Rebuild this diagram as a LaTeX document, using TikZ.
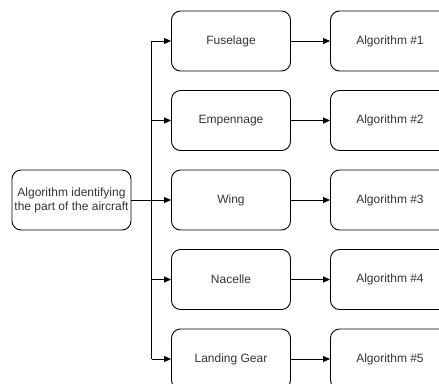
\documentclass[tikz,border=0pt]{standalone}
\usepackage{fontspec}
\setmainfont{Liberation Sans}
\usetikzlibrary{arrows.meta}
\definecolor{txt}{HTML}{333333}
\begin{document}
\begin{tikzpicture}[x=1pt,y=-1pt,
  box/.style={draw=black,line width=0.9pt,rounded corners=9pt,minimum width=119pt,minimum height=60pt,inner sep=0pt,align=center,text=txt,font=\fontsize{12}{14}\selectfont},
  conn/.style={draw=black,line width=0.9pt,-{Triangle[length=7pt,width=6pt]}}]
\useasboundingbox (0,0) rectangle (439,383);
\clip (0,0) rectangle (439,383);
\node[box] (src) at (71.5,200) {Algorithm identifying\\the part of the aircraft};
\coordinate (j) at (151.5,200);
\foreach \i/\y/\name in {1/41/Fuselage,2/120.5/Empennage,3/200/Wing,4/279.5/Nacelle,5/359/Landing Gear}{
  \node[box] (m\i) at (231,\y) {\name};
  \node[box] (a\i) at (390,\y) {Algorithm \#\i};
  \coordinate (c\i) at (151.5,\y);
  \draw[conn] (m\i) -- (a\i);
}
\draw[line width=0.9pt] (src) -- (j);
\draw[line width=0.9pt] (c1) -- (c5);
\foreach \i in {1,...,5}{\draw[conn] (c\i) -- (m\i);}
\end{tikzpicture}
\end{document}
